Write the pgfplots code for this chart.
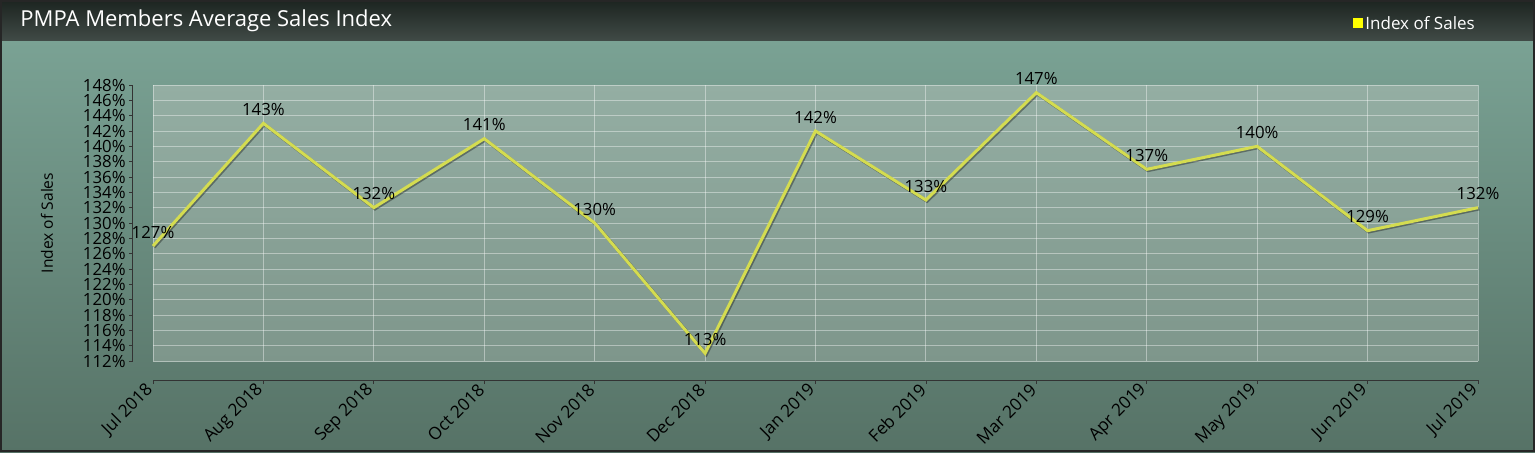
\documentclass[border=0pt]{standalone}
\usepackage{pgfplots}
\usepackage{pgfplotstable}
\pgfplotsset{compat=1.18}
\usepackage{fontspec}
\setmainfont{Open Sans}
\definecolor{bgtop}{RGB}{122,162,148}
\definecolor{bgbot}{RGB}{86,114,102}
\definecolor{bartop}{RGB}{28,36,32}
\definecolor{barbot}{RGB}{64,74,70}
\definecolor{plottop}{RGB}{148,174,163}
\definecolor{plotbot}{RGB}{126,150,139}
\definecolor{linecol}{RGB}{212,220,80}
\definecolor{legyellow}{RGB}{255,255,0}

\pgfplotstableread{
x y
0 127
1 143
2 132
3 141
4 130
5 113
6 142
7 133
8 147
9 137
10 140
11 129
12 132
}\salesdata

\begin{document}
\begin{tikzpicture}[x=1pt,y=1pt]
\useasboundingbox (0,0) rectangle (767.5,226);
\shade[top color=bgtop, bottom color=bgbot] (0,0) rectangle (767.5,206);
\shade[top color=bartop, bottom color=barbot] (0,206) rectangle (767.5,226);
\draw[black!85, line width=0.8pt] (0.4,0.4) rectangle (767.1,225.6);
\node[anchor=west, text=white, inner sep=0pt, font=\fontsize{11}{12}\selectfont] at (10,215.8) {PMPA Members Average Sales Index};
\fill[legyellow] (676.5,212) rectangle (681.5,217);
\node[anchor=west, text=white, inner sep=0pt, font=\fontsize{8.5}{9}\selectfont] at (682.5,214.5) {Index of Sales};
\begin{axis}[
  at={(76.5pt,45.5pt)}, anchor=south west,
  scale only axis, width=662.5pt, height=138pt,
  xmin=0, xmax=12, ymin=112, ymax=148,
  clip=false,
  axis background/.style={shade, top color=plottop, bottom color=plotbot},
  axis x line*=bottom, axis y line*=left,
  axis x line shift=9.5pt, axis y line shift=10pt,
  axis line style={black!80, line width=0.5pt},
  xtick={0,...,12},
  xticklabels={Jul 2018,Aug 2018,Sep 2018,Oct 2018,Nov 2018,Dec 2018,Jan 2019,Feb 2019,Mar 2019,Apr 2019,May 2019,Jun 2019,Jul 2019},
  ytick={112,114,...,148},
  yticklabel={\pgfmathprintnumber{\tick}\%},
  /pgf/number format/assume math mode=true,
  tick align=outside, major tick length=2pt,
  tick style={black!80, line width=0.4pt},
  grid=major, grid style={white, opacity=0.4, line width=0.5pt},
  yticklabel style={font=\fontsize{8.4}{8.4}\selectfont, inner sep=1.5pt},
  xticklabel style={font=\fontsize{8.6}{8.6}\selectfont, rotate=45, anchor=east, inner sep=2pt},
  ylabel={Index of Sales},
  every axis y label/.style={at={(axis description cs:-0.08,0.5)}, rotate=90, anchor=center, font=\fontsize{7.8}{8}\selectfont},
]
\addplot[black, opacity=0.35, line width=1.6pt, xshift=0.6pt, yshift=-0.6pt, forget plot] table[x=x,y=y]{\salesdata};
\addplot[linecol, line width=1.5pt,
  nodes near coords={\pgfmathprintnumber{\pgfplotspointmeta}\%},
  point meta=y,
  every node near coord/.append style={font=\fontsize{8.4}{8.4}\selectfont, black, anchor=center, yshift=7pt, inner sep=0pt},
] table[x=x,y=y]{\salesdata};
\end{axis}
\end{tikzpicture}
\end{document}
